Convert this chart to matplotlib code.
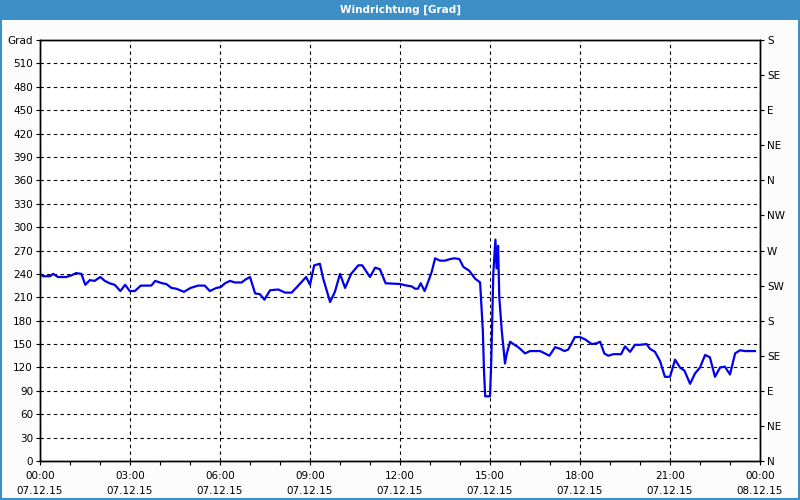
import matplotlib.pyplot as plt
from matplotlib.patches import Rectangle
from matplotlib.ticker import MultipleLocator

# wind direction readings, hours since 07.12.15 00:00
hours = [0.0, 0.1, 0.33, 0.44, 0.6, 0.87, 1.04, 1.2, 1.38, 1.51, 1.66, 1.82, 2.01, 2.16, 2.32,
         2.49, 2.68, 2.84, 2.99, 3.16, 3.36, 3.71, 3.84, 4.07, 4.21, 4.38, 4.54, 4.8, 5.02, 5.27,
         5.49, 5.66, 5.88, 6.02, 6.17, 6.33, 6.5, 6.72, 6.86, 7.0, 7.17, 7.33, 7.48, 7.67, 7.94,
         8.17, 8.39, 8.61, 8.87, 9.0, 9.14, 9.33, 9.44, 9.67, 9.83, 10.0, 10.17, 10.37, 10.61, 10.74,
         11.0, 11.17, 11.33, 11.52, 12.0, 12.22, 12.39, 12.5, 12.6, 12.69, 12.82, 12.94, 13.06, 13.17,
         13.33, 13.5, 13.67, 13.81, 13.98, 14.11, 14.31, 14.5, 14.67, 14.71, 14.76, 14.8, 14.84, 15.0,
         15.04, 15.11, 15.18, 15.22, 15.27, 15.31, 15.39, 15.5, 15.56, 15.67, 15.78, 15.94, 16.0, 16.17,
         16.33, 16.67, 16.83, 16.98, 17.17, 17.33, 17.48, 17.61, 17.83, 18.0, 18.17, 18.39, 18.56, 18.67,
         18.81, 18.94, 19.11, 19.37, 19.5, 19.67, 19.83, 20.0, 20.22, 20.33, 20.5, 20.67, 20.83, 21.0,
         21.17, 21.33, 21.48, 21.67, 21.83, 22.0, 22.17, 22.33, 22.5, 22.67, 22.83, 23.0, 23.17, 23.33,
         23.5, 23.83]
direction = [240, 237, 237, 240, 236, 236, 238, 241, 240, 226, 232, 231, 236, 231, 228,
             226, 218, 226, 218, 218, 225, 225, 231, 228, 227, 222, 221, 217, 222, 225,
             225, 218, 222, 223, 228, 231, 229, 229, 233, 236, 215, 214, 207, 219, 220,
             216, 216, 225, 236, 226, 251, 253, 234, 204, 217, 240, 222, 240, 251, 251,
             236, 248, 246, 228, 227, 225, 224, 221, 221, 228, 218, 230, 243, 260,
             257, 257, 259, 260, 259, 249, 244, 234, 229, 202, 168, 116, 83, 83,
             125, 240, 284, 247, 276, 210, 168, 125, 138, 153, 150, 146, 144, 138,
             141, 141, 138, 135, 146, 144, 141, 143, 159, 159, 156, 150, 151, 153,
             138, 135, 137, 137, 147, 140, 149, 149, 150, 144, 140, 128, 108, 108,
             130, 120, 116, 99, 112, 120, 136, 133, 108, 120, 121, 111, 138, 142,
             141, 141]

left_ticks = list(range(0, 541, 30))
left_labels = [str(v) for v in range(0, 511, 30)] + ['Grad']
right_ticks = list(range(0, 541, 45))
right_labels = ['N', 'NE', 'E', 'SE', 'S', 'SW', 'W', 'NW', 'N', 'NE', 'E', 'SE', 'S']
x_ticks = list(range(0, 25, 3))
x_labels = ['00:00\n07.12.15', '03:00\n07.12.15', '06:00\n07.12.15', '09:00\n07.12.15',
            '12:00\n07.12.15', '15:00\n07.12.15', '18:00\n07.12.15', '21:00\n07.12.15',
            '00:00\n08.12.15']

blue_bar = '#3d8fc6'
fs = 7.5

fig = plt.figure(figsize=(8, 5), dpi=100, facecolor='#fcfcfc')
fig.patches.append(Rectangle((0, 0.96), 1, 0.04, transform=fig.transFigure,
                             facecolor=blue_bar, edgecolor='none', zorder=0))
fig.patches.append(Rectangle((0.001, 0.002), 0.998, 0.997, transform=fig.transFigure,
                             fill=False, edgecolor=blue_bar, linewidth=1.5, zorder=1))
fig.text(0.5, 0.98, 'Windrichtung [Grad]', color='white', fontsize=fs, fontweight='bold',
         ha='center', va='center')

ax = fig.add_axes([0.05, 0.078, 0.9, 0.842])
ax.set_facecolor('white')
ax.plot(hours, direction, color='#0000ee', linewidth=1.6, zorder=3)

ax.set_xlim(0, 24)
ax.set_ylim(0, 540)
ax.set_xticks(x_ticks)
ax.set_xticklabels(x_labels, fontsize=fs, linespacing=1.6)
ax.xaxis.set_minor_locator(MultipleLocator(1))
ax.set_yticks(left_ticks)
ax.set_yticklabels(left_labels, fontsize=fs)
ax.tick_params(axis='both', which='both', direction='out', length=3, width=0.8, pad=2)
ax.tick_params(axis='x', pad=4)
ax.grid(True, which='major', color='black', linestyle=(0, (3, 3)), linewidth=0.8)

ax2 = ax.twinx()
ax2.set_ylim(0, 540)
ax2.set_yticks(right_ticks)
ax2.set_yticklabels(right_labels, fontsize=fs)
ax2.tick_params(axis='y', direction='out', length=3, width=0.8, pad=2)

for a in (ax, ax2):
    for s in a.spines.values():
        s.set_linewidth(1)

fig.savefig('out.png', dpi=100, facecolor=fig.get_facecolor())
